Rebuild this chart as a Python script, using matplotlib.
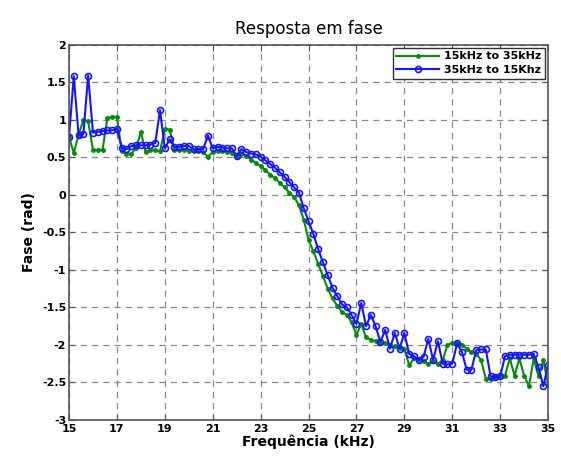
import matplotlib
matplotlib.use('Agg')
import matplotlib.pyplot as plt
import numpy as np

green = '#0a8a0a'
blue = '#1414ff'

# frequencias (kHz), passo de 0.2
freq = [round(15 + 0.2 * i, 1) for i in range(101)]

# varredura 15kHz -> 35kHz
fase_subida = [
    0.77, 0.56, 0.80, 1.00, 0.98, 0.60, 0.60, 0.60, 1.02, 1.04,
    1.04, 0.58, 0.55, 0.55, 0.62, 0.84, 0.57, 0.60, 0.60, 0.58,
    0.88, 0.87, 0.60, 0.60, 0.60, 0.59, 0.58, 0.58, 0.57, 0.51,
    0.57, 0.58, 0.58, 0.57, 0.56, 0.51, 0.55, 0.52, 0.47, 0.43,
    0.38, 0.33, 0.27, 0.22, 0.16, 0.10, 0.03, -0.03, -0.14, -0.33,
    -0.60, -0.75, -0.92, -1.08, -1.25, -1.38, -1.48, -1.56, -1.60, -1.70,
    -1.87, -1.72, -1.90, -1.93, -1.95, -1.97, -1.98, -2.00, -2.02, -2.04,
    -2.05, -2.27, -2.18, -2.20, -2.22, -2.25, -2.22, -2.25, -2.20, -2.00,
    -1.97, -1.98, -2.00, -2.05, -2.10, -2.12, -2.20, -2.45, -2.45, -2.43,
    -2.42, -2.41, -2.18, -2.41, -2.18, -2.41, -2.55, -2.18, -2.42, -2.20,
    -2.53,
]

# varredura 35kHz -> 15kHz
fase_descida = [
    0.77, 1.58, 0.80, 0.81, 1.59, 0.83, 0.84, 0.85, 0.86, 0.86,
    0.88, 0.63, 0.61, 0.65, 0.66, 0.66, 0.66, 0.67, 0.69, 1.13,
    0.62, 0.74, 0.64, 0.64, 0.65, 0.65, 0.61, 0.61, 0.61, 0.79,
    0.62, 0.64, 0.63, 0.62, 0.62, 0.52, 0.61, 0.57, 0.55, 0.54,
    0.51, 0.46, 0.41, 0.36, 0.30, 0.24, 0.17, 0.10, 0.03, -0.18,
    -0.35, -0.52, -0.72, -0.90, -1.07, -1.24, -1.35, -1.46, -1.50, -1.60,
    -1.72, -1.44, -1.75, -1.60, -1.75, -1.96, -1.80, -2.05, -1.84, -2.05,
    -1.84, -2.12, -2.15, -2.20, -2.16, -1.92, -2.20, -1.95, -2.25, -2.26,
    -2.25, -1.98, -2.09, -2.33, -2.33, -2.07, -2.06, -2.06, -2.42, -2.43,
    -2.42, -2.15, -2.13, -2.13, -2.13, -2.13, -2.13, -2.12, -2.30, -2.55,
    -2.27,
]

x_ticks = list(range(15, 36, 2))
y_ticks = [-3, -2.5, -2, -1.5, -1, -0.5, 0, 0.5, 1, 1.5, 2]
y_labels = ['-3', '-2.5', '-2', '-1.5', '-1', '-0.5', '0', '0.5', '1', '1.5', '2']

fig = plt.figure(figsize=(5.61, 4.57), dpi=100)
ax = fig.add_axes([0.123, 0.081, 0.854, 0.821])

ax.plot(freq, fase_subida, color=green, marker='.', markersize=5,
        linewidth=1.5, label='15kHz to 35kHz')
ax.plot(freq, fase_descida, color=blue, marker='o', markersize=4.3,
        markerfacecolor='none', markeredgewidth=1.2, linewidth=1.5,
        label='35kHz to 15Khz')

ax.set_xlim(15, 35)
ax.set_ylim(-3, 2)
ax.set_xticks(x_ticks)
ax.set_xticklabels([str(t) for t in x_ticks], fontweight='bold', fontsize=8)
ax.set_yticks(y_ticks)
ax.set_yticklabels(y_labels, fontweight='bold', fontsize=8)
ax.tick_params(axis='x', pad=3)
ax.tick_params(direction='in', top=True, right=True, length=4,
               color='#555555')
ax.tick_params(axis='y', pad=2)

ax.grid(True, linestyle=(0, (5, 4)), color='#888888', linewidth=0.9)
ax.set_axisbelow(True)
for s in ax.spines.values():
    s.set_color('#555555')
    s.set_linewidth(1.2)

ax.set_title('Resposta em fase', fontsize=12, pad=8)
ax.set_xlabel('Frequência (kHz)', fontweight='bold', fontsize=10, labelpad=0)
ax.set_ylabel('Fase (rad)', fontweight='bold', fontsize=10, labelpad=4)

leg = ax.legend(loc='upper right', prop={'weight': 'bold', 'size': 8},
                fancybox=False, framealpha=1, edgecolor='#333333',
                borderaxespad=0.3, handlelength=3.8, borderpad=0.3,
                labelspacing=0.35, handletextpad=0.5)
leg.get_frame().set_linewidth(1.0)

fig.savefig('out.png', dpi=100)
